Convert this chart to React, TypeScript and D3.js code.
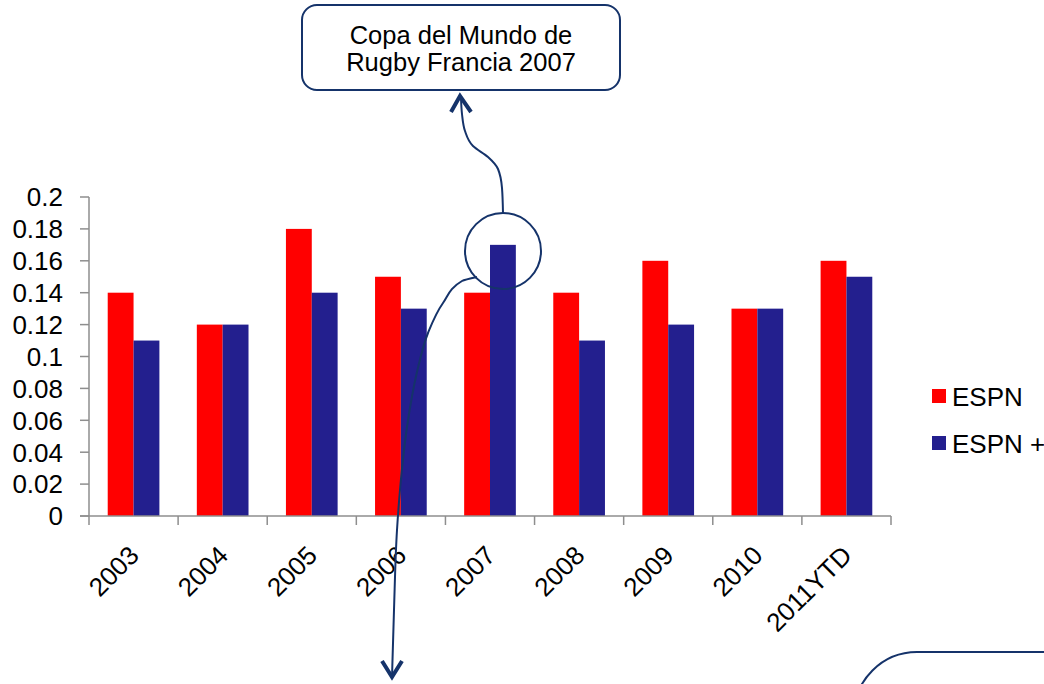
import React from "react";
import * as d3 from "d3";

const categories = ["2003", "2004", "2005", "2006", "2007", "2008", "2009", "2010", "2011YTD"];
const espn = [0.14, 0.12, 0.18, 0.15, 0.14, 0.14, 0.16, 0.13, 0.16];
const espnPlus = [0.11, 0.12, 0.14, 0.13, 0.17, 0.11, 0.12, 0.13, 0.15];
const yTicks = [0, 0.02, 0.04, 0.06, 0.08, 0.1, 0.12, 0.14, 0.16, 0.18, 0.2];
const seriesNames = ["ESPN", "ESPN +"];
const annotationLines = ["Copa del Mundo de", "Rugby Francia 2007"];

const W = 1044;
const H = 684;
const RED = "#FF0000";
const BLUE = "#231F8E";
const NAVY = "#15336A";
const AXIS = "#8E8E8E";
const FONT = "'Liberation Sans', Arial, sans-serif";

export default function App() {
  const x = d3.scaleBand<string>().domain(categories).range([89, 891]).paddingInner(0.42).paddingOuter(0.21);
  const y = d3.scaleLinear().domain([0, 0.2]).range([516, 197]);
  const bw = x.bandwidth() / 2;
  const step = x.step();

  const curve = d3.line<[number, number]>().curve(d3.curveMonotoneY);
  const upper: [number, number][] = [
    [461, 98], [462, 114], [465, 131], [473, 146], [488, 157], [498, 169], [502, 188], [503, 213],
  ];
  const lower: [number, number][] = [
    [477, 277], [462, 281], [443, 303], [428, 333], [417, 372], [407, 427], [400, 490], [397, 530], [394, 610], [392, 678],
  ];

  return (
    <svg width={W} height={H} style={{ position: "absolute", left: 0, top: 0, background: "#fff" }} fontFamily={FONT}>
      {categories.map((c, i) => (
        <g key={c}>
          <rect x={x(c)!} y={y(espn[i])} width={bw} height={y(0) - y(espn[i])} fill={RED} />
          <rect x={x(c)! + bw} y={y(espnPlus[i])} width={bw} height={y(0) - y(espnPlus[i])} fill={BLUE} />
        </g>
      ))}
      <line x1={89} x2={89} y1={y(0.2)} y2={y(0)} stroke={AXIS} strokeWidth={1.5} />
      {yTicks.map((t) => (
        <g key={t}>
          <line x1={80} x2={89} y1={y(t)} y2={y(t)} stroke={AXIS} strokeWidth={1.5} />
          <text x={63} y={y(t)} dy="0.36em" textAnchor="end" fontSize={26} fill="#000">
            {String(t)}
          </text>
        </g>
      ))}
      <line x1={80} x2={891} y1={y(0)} y2={y(0)} stroke={AXIS} strokeWidth={1.5} />
      {d3.range(categories.length + 1).map((k) => (
        <line key={k} x1={89 + k * step} x2={89 + k * step} y1={516} y2={525} stroke={AXIS} strokeWidth={1.5} />
      ))}
      {categories.map((c) => {
        const cx = x(c)! + x.bandwidth() / 2;
        return (
          <text key={c} transform={`translate(${cx + 7},${557}) rotate(-45)`} textAnchor="end" fontSize={26} fill="#000">
            {c}
          </text>
        );
      })}
      {seriesNames.map((s, i) => (
        <g key={s} transform={`translate(932,${389 + i * 47})`}>
          <rect x={0} y={0} width={14} height={14} fill={i === 0 ? RED : BLUE} />
          <text x={20} y={17} fontSize={26} fill="#000">
            {s}
          </text>
        </g>
      ))}
      <rect x={302} y={5} width={318} height={85} rx={15} ry={15} fill="#fff" stroke={NAVY} strokeWidth={2} />
      {annotationLines.map((l, i) => (
        <text key={l} x={461} y={44 + i * 27} textAnchor="middle" fontSize={25.5} fill="#000">
          {l}
        </text>
      ))}
      <path d={curve(upper)!} fill="none" stroke={NAVY} strokeWidth={2} />
      <path d="M451,112 L460,96 L471,112" fill="none" stroke={NAVY} strokeWidth={4} />
      <circle cx={503} cy={251} r={38} fill="none" stroke={NAVY} strokeWidth={2} />
      <path d={curve(lower)!} fill="none" stroke={NAVY} strokeWidth={2} />
      <path d="M382,661 L392,677 L402,661" fill="none" stroke={NAVY} strokeWidth={4} />
      <rect x={854} y={652} width={400} height={200} rx={63} ry={63} fill="none" stroke={NAVY} strokeWidth={2} />
    </svg>
  );
}
